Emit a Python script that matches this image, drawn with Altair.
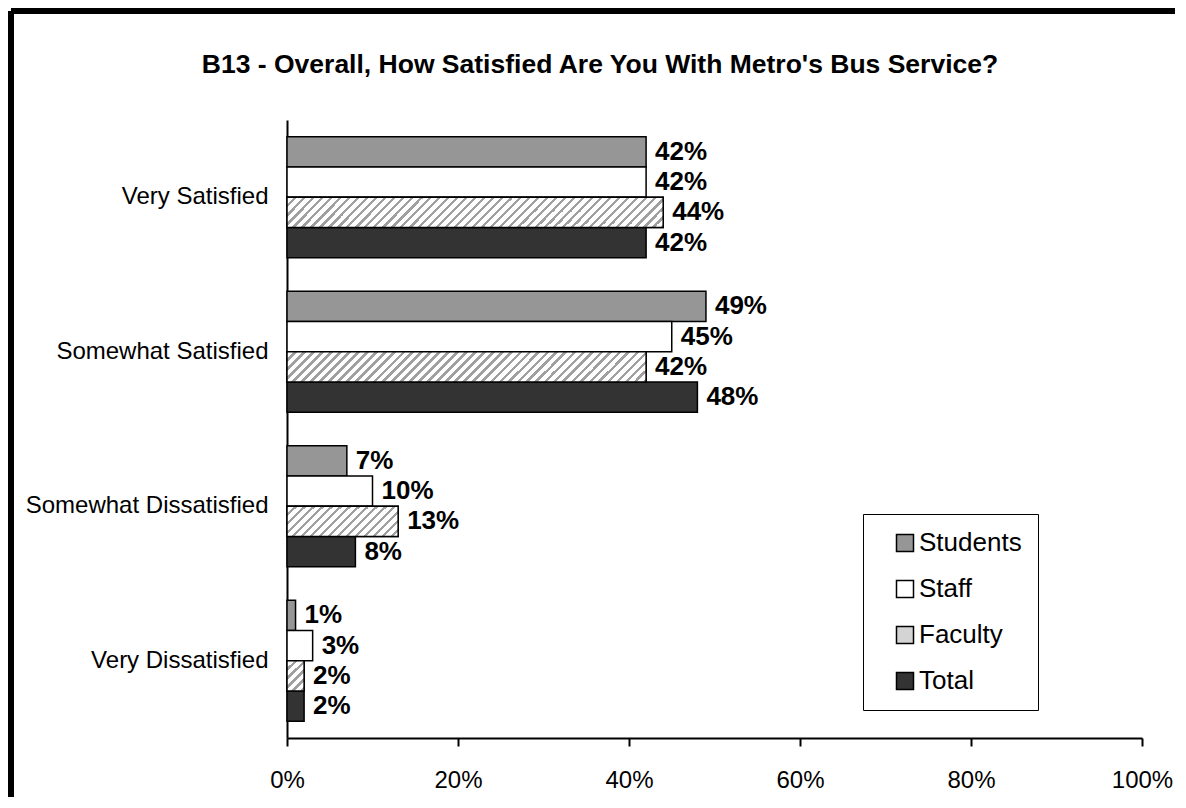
import altair as alt
import pandas as pd

FONT = "Liberation Sans"

categories = ["Very Satisfied", "Somewhat Satisfied", "Somewhat Dissatisfied", "Very Dissatisfied"]
groups = ["Students", "Staff", "Faculty", "Total"]
students = [42, 49, 7, 1]
staff = [42, 45, 10, 3]
faculty = [44, 42, 13, 2]
total = [42, 48, 8, 2]
x_ticks = [0, 20, 40, 60, 80, 100]
title_text = "B13 - Overall, How Satisfied Are You With Metro's Bus Service?"

series = {"Students": students, "Staff": staff, "Faculty": faculty, "Total": total}
rows = []
for g in groups:
    for c, v in zip(categories, series[g]):
        rows.append({"category": c, "group": g, "value": v, "label": f"{v}%"})
df = pd.DataFrame(rows)

# layout: the view covers the whole chart, the plot region is set by scale ranges
W, H = 1170, 792
X_RANGE = [279, 1134]
Y_RANGE = [112, 730]
P_IN, P_OUT = 0.217, 0.1085
step = (Y_RANGE[1] - Y_RANGE[0]) / (len(categories) - P_IN + 2 * P_OUT)
sub_h = step * (1 - P_IN) / len(groups)
px_per_unit = (X_RANGE[1] - X_RANGE[0]) / 100.0

fill_colors = ["#969696", "#ffffff", "#d4d4d4", "#333333"]


def hatch(w, h, period=9.0, line=3.5, gray="#a0a0a0"):
    L = w + h
    d = w * w + h * h
    a, b = w * L / d, h * L / d
    stops = [alt.GradientStop(color="white", offset=0)]
    k = 0
    while k * period - line / 2 < L:
        c = k * period
        lo = max(0.0, (c - line / 2) / L)
        hi = min(1.0, (c + line / 2) / L)
        if hi > 0 and lo < 1:
            stops += [alt.GradientStop(color="white", offset=lo),
                      alt.GradientStop(color=gray, offset=lo),
                      alt.GradientStop(color=gray, offset=hi),
                      alt.GradientStop(color="white", offset=hi)]
        k += 1
    stops.append(alt.GradientStop(color="white", offset=1))
    return alt.LinearGradient(gradient="linear", stops=stops, x1=0, y1=0, x2=a, y2=b)


x_enc = alt.X(
    "value:Q",
    scale=alt.Scale(domain=[0, 100], range=X_RANGE, nice=False),
    axis=alt.Axis(
        values=x_ticks, labelExpr="datum.value + '%'", grid=False, title=None,
        domainColor="black", domainWidth=2, tickColor="black", tickWidth=2, tickSize=8,
        labelFont=FONT, labelFontSize=24, labelColor="black", labelPadding=22,
        labelFlush=False, labelOverlap=False,
        offset=-(H - Y_RANGE[1]),
    ),
)
y_enc = alt.Y(
    "category:N", sort=categories,
    scale=alt.Scale(domain=categories, range=Y_RANGE, paddingInner=P_IN, paddingOuter=P_OUT),
    axis=alt.Axis(
        ticks=False, title=None, domainColor="black", domainWidth=2,
        labelFont=FONT, labelFontSize=24, labelColor="black", labelPadding=19, labelLimit=400,
        offset=-X_RANGE[0],
    ),
)
yoff_enc = alt.YOffset("group:N", sort=groups, scale=alt.Scale(domain=groups, paddingInner=0, paddingOuter=0))

base = alt.Chart(df)

bars = base.mark_bar(stroke="black", strokeWidth=1.5).encode(
    x=x_enc, y=y_enc, yOffset=yoff_enc,
    fill=alt.Fill(
        "group:N", sort=groups,
        scale=alt.Scale(domain=groups, range=fill_colors),
        legend=alt.Legend(
            title=None, orient="none", legendX=855, legendY=506,
            padding=16, strokeColor="black", fillColor="white",
            symbolType="square", symbolSize=289, symbolStrokeColor="black", symbolStrokeWidth=1.5,
            symbolOffset=13, labelOffset=1, rowPadding=20,
            labelFont=FONT, labelFontSize=26, labelColor="black",
        ),
    ),
)

layers = [bars]
for c, v in zip(categories, faculty):
    g = hatch(v * px_per_unit, sub_h)
    layers.append(
        base.transform_filter(
            (alt.datum.group == "Faculty") & (alt.datum.category == c)
        ).mark_bar(fill=g, stroke="black", strokeWidth=1.5).encode(
            x=x_enc, y=y_enc, yOffset=yoff_enc
        )
    )

labels = base.mark_text(
    align="left", baseline="middle", dx=9, font=FONT, fontSize=26, fontWeight="bold", color="black"
).encode(x=x_enc, y=y_enc, yOffset=yoff_enc, text="label:N")
layers.append(labels)

# outer frame (top and left edges, as in the reference crop)
frame_df = pd.DataFrame({"frame": [0]})
frame_top = alt.Chart(frame_df).mark_rule(color="black", strokeWidth=6).encode(
    x=alt.value(3), x2=alt.value(W - 3), y=alt.value(3)
)
frame_left = alt.Chart(frame_df).mark_rule(color="black", strokeWidth=6).encode(
    x=alt.value(3), y=alt.value(3), y2=alt.value(H - 3)
)
layers += [frame_top, frame_left]

chart = alt.layer(*layers).properties(
    width=W, height=H,
    padding={"left": 0, "top": 0, "right": 0, "bottom": 0},
    title=alt.TitleParams(
        text=title_text, frame="group", anchor="middle", orient="top",
        offset=-83, baseline="middle", dx=7,
        font=FONT, fontSize=26.5, fontWeight="bold", color="black",
    ),
).configure_view(stroke=None)

chart.save("out.html", embed_options={"renderer": "svg", "actions": False})
